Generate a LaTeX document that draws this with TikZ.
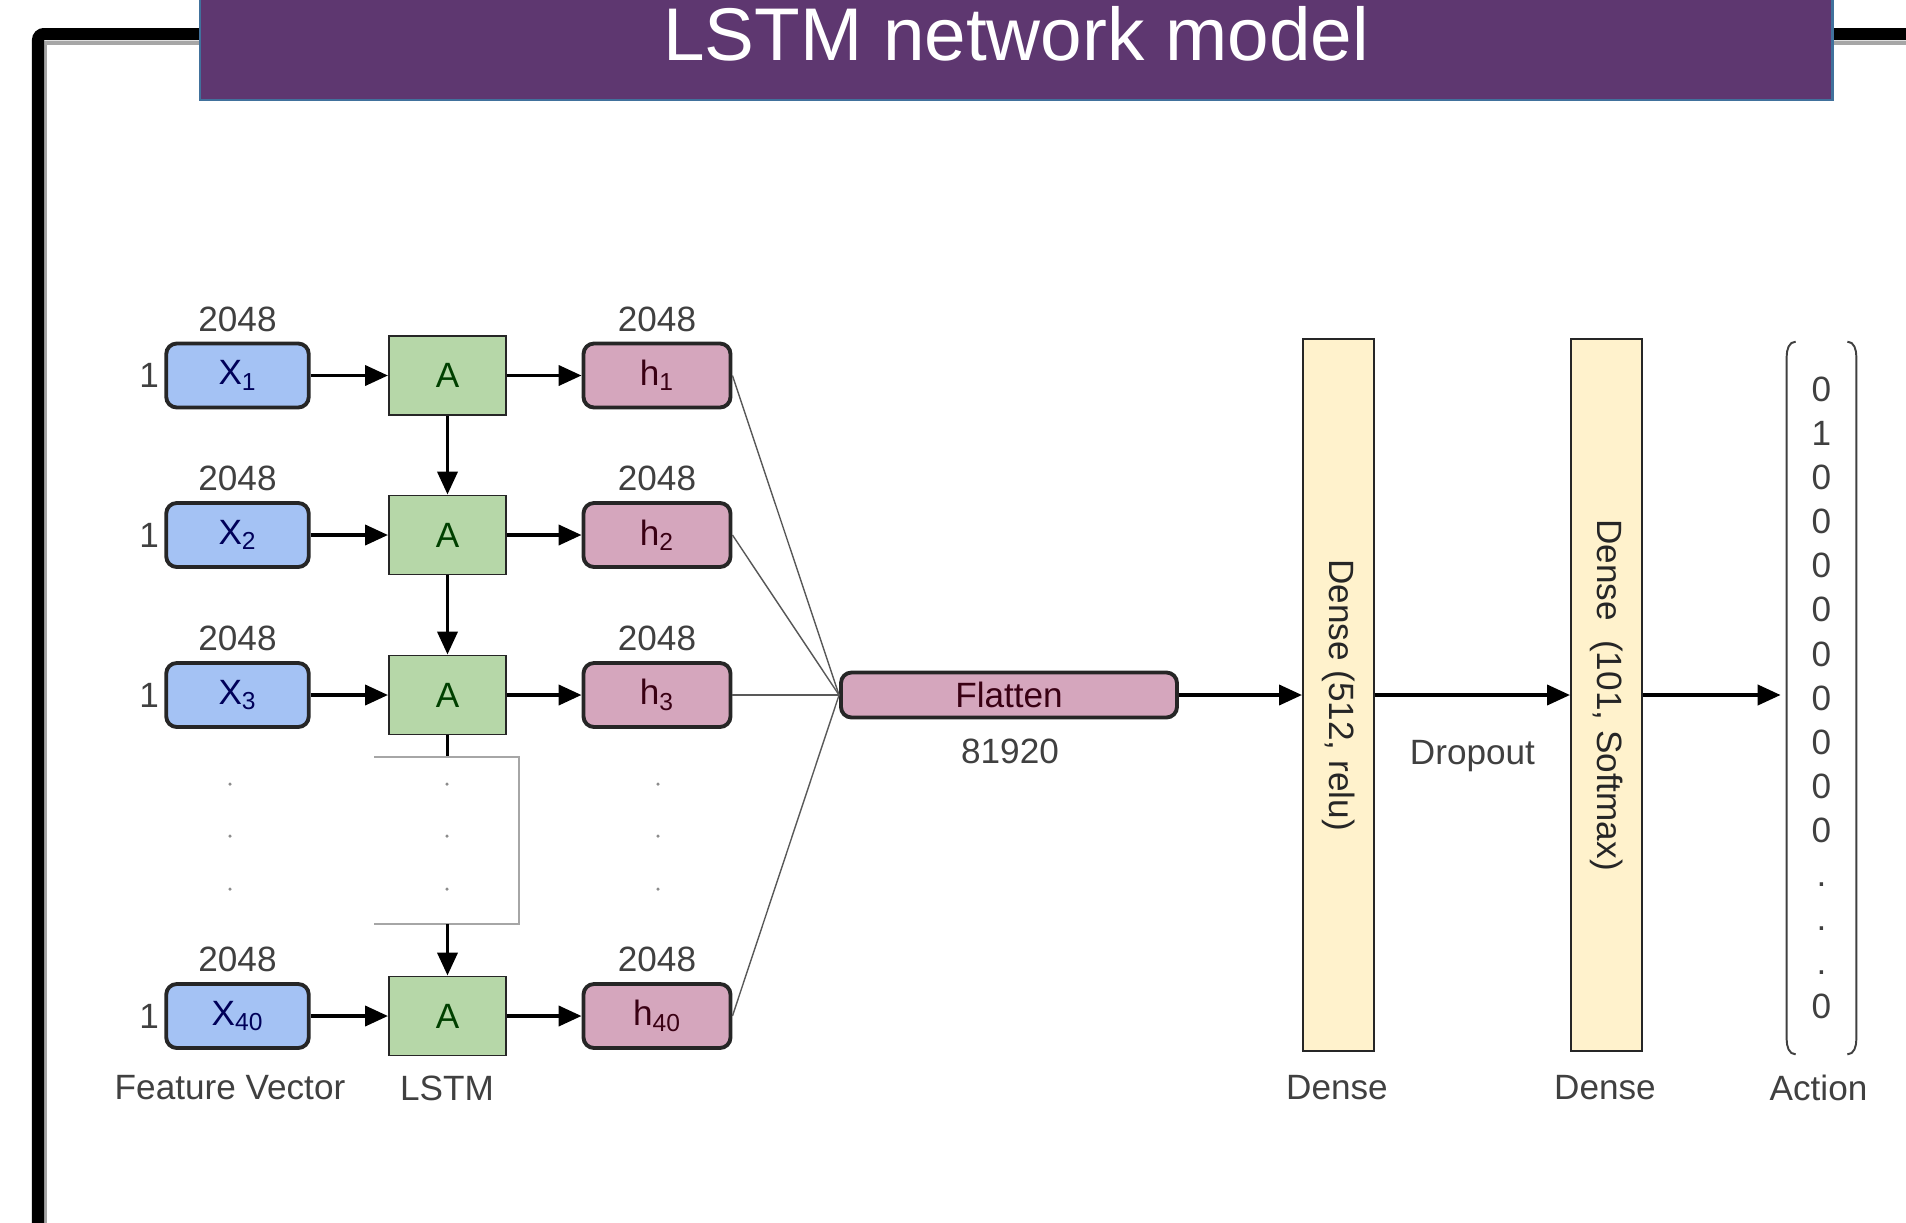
\documentclass[tikz,border=0pt]{standalone}
\usepackage{fontspec}
\setmainfont{Liberation Sans}
\usepackage{tikz}
\usetikzlibrary{calc,arrows.meta}
\definecolor{title_purple}{HTML}{5E3770}
\definecolor{title_edge}{HTML}{41719C}
\definecolor{light_blue}{HTML}{A4C2F4}
\definecolor{light_green}{HTML}{B6D7A8}
\definecolor{light_pink}{HTML}{D5A6BD}
\definecolor{light_yellow}{HTML}{FFF2CC}
\definecolor{dark_line}{HTML}{262626}
\definecolor{label_gray}{HTML}{404040}

\begin{document}
\begin{tikzpicture}[
	every node/.style = {font=\fontsize{20}{24}\selectfont, text=label_gray},
	xbox/.style = {draw=dark_line, line width=2.2pt, fill=light_blue, rounded corners=6pt, minimum width=2.85cm, minimum height=1.28cm, inner sep=0pt, text=blue!35!black},
	abox/.style = {draw=dark_line, line width=1.1pt, fill=light_green, minimum width=2.34cm, minimum height=1.58cm, inner sep=0pt, text=green!25!black},
	hbox/.style = {draw=dark_line, line width=2.2pt, fill=light_pink, rounded corners=6pt, minimum width=2.94cm, minimum height=1.28cm, inner sep=0pt, text=purple!30!black},
	densebox/.style = {draw=dark_line, line width=1.1pt, fill=light_yellow, minimum width=14.24cm, minimum height=1.42cm, inner sep=0pt, text=dark_line},
	vecbox/.style = {minimum width=1.38cm, minimum height=14.24cm, inner sep=0pt, align=center, font=\fontsize{20}{25.1}\selectfont},
	flow/.style = {line width=2.2pt, -{Triangle[length=0.46cm, width=0.4cm]}},
	feed/.style = {line width=0.8pt, draw=black!65},
	gap_line/.style = {line width=0.8pt, draw=black!35},
	paren/.style = {line width=1.1pt, draw=label_gray},
]
	\useasboundingbox (0, 0) rectangle (38.12, -24.44);
	% frame and title
	\draw[line width=0.08cm, black!35] (0.9, -24.6) -- (0.9, -0.86) -- (38.3, -0.86);
	\draw[line width=0.24cm, rounded corners=0.12cm] (0.76, -24.6) -- (0.76, -0.68) -- (38.3, -0.68);
	\draw[fill=title_purple, draw=title_edge, line width=1.7pt] (4.0, 0.3) rectangle (36.64, -2.0);
	\node[font=\fontsize{42.5}{50}\selectfont, text=white] (title) at (20.32, -0.67) {LSTM network model};

	% inputs
	\node[xbox] (x1) at (4.75, -7.51) {X\textsubscript{1}};
	\node[xbox] (x2) at (4.75, -10.70) {X\textsubscript{2}};
	\node[xbox] (x3) at (4.75, -13.90) {X\textsubscript{3}};
	\node[xbox] (x40) at (4.75, -20.32) {X\textsubscript{40}};
	\node[left=0.1cm, inner sep=0pt] at (x1.west) {1};
	\node[left=0.1cm, inner sep=0pt] at (x2.west) {1};
	\node[left=0.1cm, inner sep=0pt] at (x3.west) {1};
	\node[left=0.1cm, inner sep=0pt] at (x40.west) {1};
	\node[above=0.19cm, inner sep=0pt] at (x1.north) {2048};
	\node[above=0.19cm, inner sep=0pt] at (x2.north) {2048};
	\node[above=0.19cm, inner sep=0pt] at (x3.north) {2048};
	\node[above=0.19cm, inner sep=0pt] at (x40.north) {2048};

	% lstm cells
	\node[abox] (a1) at (8.95, -7.51) {A};
	\node[abox] (a2) at (8.95, -10.70) {A};
	\node[abox] (a3) at (8.95, -13.90) {A};
	\node[abox] (a40) at (8.95, -20.32) {A};

	% hidden states
	\node[hbox] (h1) at (13.14, -7.51) {h\textsubscript{1}};
	\node[hbox] (h2) at (13.14, -10.70) {h\textsubscript{2}};
	\node[hbox] (h3) at (13.14, -13.90) {h\textsubscript{3}};
	\node[hbox] (h40) at (13.14, -20.32) {h\textsubscript{40}};
	\node[above=0.19cm, inner sep=0pt] at (h1.north) {2048};
	\node[above=0.19cm, inner sep=0pt] at (h2.north) {2048};
	\node[above=0.19cm, inner sep=0pt] at (h3.north) {2048};
	\node[above=0.19cm, inner sep=0pt] at (h40.north) {2048};

	\draw[flow] (x1) -- (a1);
	\draw[flow] (x2) -- (a2);
	\draw[flow] (x3) -- (a3);
	\draw[flow] (x40) -- (a40);
	\draw[flow] (a1) -- (h1);
	\draw[flow] (a2) -- (h2);
	\draw[flow] (a3) -- (h3);
	\draw[flow] (a40) -- (h40);
	\draw[flow] (a1) -- (a2);
	\draw[flow] (a2) -- (a3);

	% skipped steps
	\coordinate (loop_top) at (8.95, -15.14);
	\coordinate (loop_bot) at (8.95, -18.48);
	\draw[line width=2.2pt] (a3) -- (loop_top);
	\draw[gap_line] (7.48, -15.14) -- (10.38, -15.14) -- (10.38, -18.48) -- (7.48, -18.48);
	\draw[flow] (loop_bot) -- (a40);
	\fill[black!45] (4.6, -15.68) circle (0.035);
	\fill[black!45] (4.6, -16.72) circle (0.035);
	\fill[black!45] (4.6, -17.78) circle (0.035);
	\fill[black!45] (8.94, -15.68) circle (0.035);
	\fill[black!45] (8.94, -16.72) circle (0.035);
	\fill[black!45] (8.94, -17.78) circle (0.035);
	\fill[black!45] (13.16, -15.68) circle (0.035);
	\fill[black!45] (13.16, -16.72) circle (0.035);
	\fill[black!45] (13.16, -17.78) circle (0.035);

	% flatten and dense layers
	\node[hbox, minimum width=6.72cm, minimum height=0.9cm] (fl) at (20.18, -13.90) {Flatten};
	\node (fl_size) at (20.2, -15.02) {81920};
	\draw[feed] (h1.east) -- (fl.west);
	\draw[feed] (h2.east) -- (fl.west);
	\draw[feed] (h3.east) -- (fl.west);
	\draw[feed] (h40.east) -- (fl.west);

	\node[densebox, rotate=-90] (d1) at (26.77, -13.90) {Dense (512, relu)};
	\node[densebox, rotate=-90] (d2) at (32.13, -13.90) {Dense\ \ (101, Softmax)};
	\node[vecbox] (act) at (36.43, -13.96) {0\\1\\0\\0\\0\\0\\0\\0\\0\\0\\0\\.\\.\\.\\0};
	\draw[paren] ($(act.north west) + (0.18, 0)$) to[out=180, in=90] ($(act.north west) + (0, -0.3)$) -- ($(act.south west) + (0, 0.3)$) to[out=-90, in=180] ($(act.south west) + (0.18, 0)$);
	\draw[paren] ($(act.north east) + (-0.18, 0)$) to[out=0, in=90] ($(act.north east) + (0, -0.3)$) -- ($(act.south east) + (0, 0.3)$) to[out=-90, in=0] ($(act.south east) + (-0.18, 0)$);

	\draw[flow] (fl) -- (d1);
	\draw[flow] (d1) -- (d2) node[midway, below=0.75cm] {Dropout};
	\draw[flow, shorten >=0.12cm] (d2) -- (d2 -| act.west);

	% column names
	\node at (4.6, -21.76) {Feature Vector};
	\node at (8.94, -21.76) {LSTM};
	\node at (26.74, -21.76) {Dense};
	\node at (32.1, -21.76) {Dense};
	\node at (36.37, -21.76) {Action};
\end{tikzpicture}
\end{document}
